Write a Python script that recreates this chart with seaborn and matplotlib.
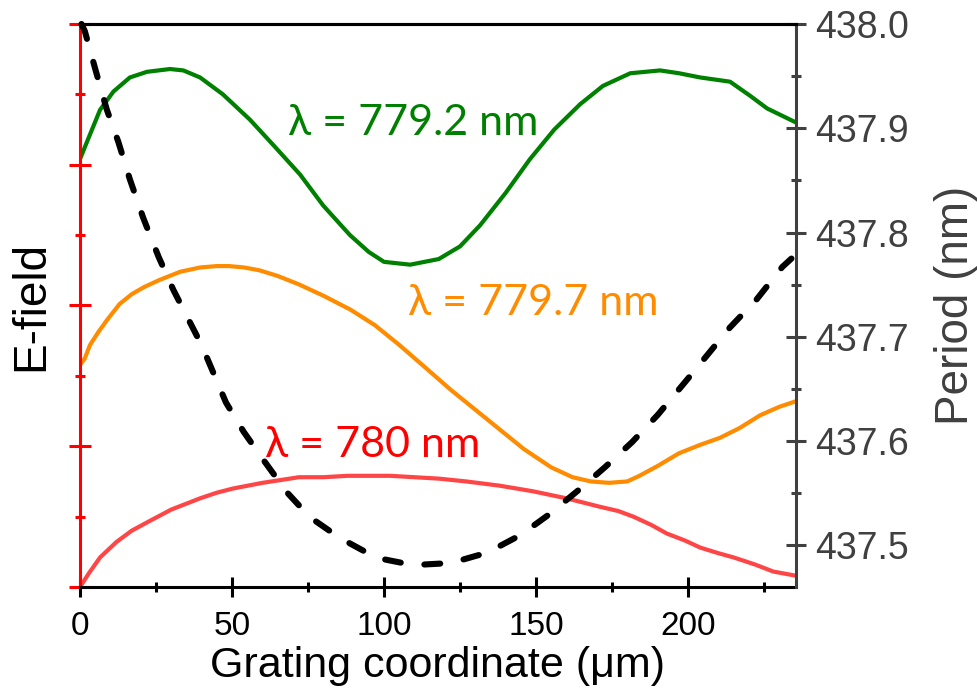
import numpy as np
import pandas as pd
import matplotlib
matplotlib.use('Agg')
import matplotlib.pyplot as plt
from matplotlib.ticker import MultipleLocator, FormatStrFormatter
import seaborn as sns

# E-field profiles (arb. units) along the grating
x_green = [0, 3, 6.6, 11, 16.4, 22, 29.6, 34, 39.5, 47, 55.9, 64, 72.4, 80, 88.8, 95, 100, 108.6,
           118, 125, 131.6, 140, 148, 156, 164.5, 172, 181, 190.8, 197, 204, 213.8, 220.4, 226, 235.5]
e_green = [3.04, 3.20, 3.39, 3.52, 3.62, 3.66, 3.68, 3.67, 3.62, 3.50, 3.32, 3.13, 2.93, 2.71, 2.50, 2.38, 2.31, 2.29,
           2.33, 2.42, 2.57, 2.80, 3.04, 3.25, 3.43, 3.56, 3.65, 3.67, 3.65, 3.62, 3.59, 3.49, 3.40, 3.30]

x_orange = [0, 1.5, 3.3, 6, 9, 13, 17, 21, 26, 33, 39.5, 45, 49, 54, 59, 65, 72, 80, 89, 97, 105,
            113, 122, 130, 138, 146, 155, 162, 168, 174, 180, 184, 190, 197, 204, 210.5, 217, 223.7, 230, 235.5]
e_orange = [1.58, 1.62, 1.72, 1.81, 1.90, 2.01, 2.08, 2.13, 2.18, 2.24, 2.27, 2.28, 2.28, 2.27, 2.25, 2.21, 2.15, 2.07,
            1.97, 1.86, 1.72, 1.57, 1.40, 1.26, 1.12, 0.98, 0.85, 0.78, 0.75, 0.74, 0.75, 0.79, 0.86, 0.95, 1.01,
            1.06, 1.13, 1.22, 1.28, 1.32]

x_red = [0, 3, 6.6, 12, 17, 23, 30, 39.5, 45, 50.4, 60, 72, 80, 88, 95, 102, 110, 118, 127, 138,
         149, 160, 171, 177, 182, 188, 193, 199, 204, 210, 215, 222, 228, 235.5]
e_red = [0.0, 0.10, 0.21, 0.32, 0.40, 0.47, 0.55, 0.63, 0.67, 0.70, 0.74, 0.78, 0.78, 0.79, 0.79, 0.79, 0.78, 0.77,
         0.75, 0.72, 0.68, 0.63, 0.57, 0.54, 0.50, 0.44, 0.38, 0.33, 0.28, 0.24, 0.21, 0.16, 0.11, 0.08]

# grating period (nm)
x_period = [0.5, 1.6, 5, 8.8, 12.6, 16.4, 20.8, 25.8, 30.7, 40, 48, 53.8, 60.3, 68, 75.6, 85.5, 97.5, 109.6,
            122, 134, 145, 154, 164, 172.7, 181.6, 190, 200, 213.8, 222.6, 231, 234]
period = [438.0, 437.993, 437.957, 437.918, 437.887, 437.851, 437.814, 437.777, 437.745, 437.692, 437.637, 437.609,
          437.582, 437.551, 437.527, 437.507, 437.488, 437.481, 437.483, 437.493, 437.510, 437.529, 437.553, 437.575,
          437.599, 437.625, 437.660, 437.709, 437.736, 437.767, 437.775]

labels = ['\u03bb = 779.2 nm', '\u03bb = 779.7 nm', '\u03bb = 780 nm']
label_xy = [(68.4, 3.21), (107.9, 1.93), (60.9, 0.925)]

GREEN = '#008000'
ORANGE = '#ff8c00'
RED_LINE = '#ff4646'
RED = '#ff0000'
GREY = '#404040'

sns.set_style('white')
plt.rcParams['font.family'] = ['Liberation Sans', 'DejaVu Sans']
plt.rcParams['text.color'] = 'black'
plt.rcParams['axes.labelcolor'] = 'black'
plt.rcParams['xtick.color'] = 'black'
plt.rcParams['ytick.color'] = 'black'

fig = plt.figure(figsize=(9.78, 6.91), dpi=100)
ax = fig.add_axes([0.0818, 0.1505, 0.7321, 0.8148])
ax2 = ax.twinx()

curves = [(x_green, e_green, GREEN), (x_orange, e_orange, ORANGE), (x_red, e_red, RED_LINE)]
for xs, es, c in curves:
    df = pd.DataFrame({'x': xs, 'e': es})
    sns.lineplot(data=df, x='x', y='e', ax=ax, color=c, lw=3, sort=False, estimator=None)

dfp = pd.DataFrame({'x': x_period, 'p': period})
sns.lineplot(data=dfp, x='x', y='p', ax=ax2, color='black', lw=4.4, sort=False, estimator=None,
             linestyle=(0, (2.6, 3.9)), dash_capstyle='round', clip_on=False)

lambda_font = ['Lato', 'DejaVu Sans']
for txt, (tx, ty), c in zip(labels, label_xy, [GREEN, ORANGE, RED]):
    ax.text(tx, ty, txt, color=c, fontsize=31, family=lambda_font, ha='left', va='baseline')

ax.set_xlim(0, 235.5)
ax.set_ylim(0, 4)
ax2.set_ylim(437.46, 438.0)

ax.xaxis.set_major_locator(MultipleLocator(50))
ax.xaxis.set_minor_locator(MultipleLocator(25))
ax.yaxis.set_major_locator(MultipleLocator(1))
ax.yaxis.set_minor_locator(MultipleLocator(0.5))
ax2.yaxis.set_major_locator(MultipleLocator(0.1))
ax2.yaxis.set_minor_locator(MultipleLocator(0.05))

for sp in list(ax.spines.values()) + list(ax2.spines.values()):
    sp.set_linewidth(2.2)
ax.spines['left'].set_color(RED)
ax.spines['right'].set_visible(False)
ax.spines['top'].set_color('black')
ax.spines['bottom'].set_color('black')
ax2.spines['left'].set_visible(False)
ax2.spines['bottom'].set_visible(False)
ax2.spines['top'].set_color('black')
ax2.spines['right'].set_color(GREY)

ax.tick_params(axis='x', which='major', direction='inout', length=15, width=2.2, color='black',
               labelcolor='black', labelsize=24, pad=10, bottom=True)
ax.tick_params(axis='x', which='minor', direction='inout', length=7, width=2.2, color='black', bottom=True)
ax.tick_params(axis='y', which='major', direction='inout', length=16, width=2.2, color=RED,
               labelleft=False, left=True)
ax.tick_params(axis='y', which='minor', direction='inout', length=7, width=2.2, color=RED, left=True)
ax2.tick_params(axis='y', which='major', direction='inout', length=15, width=2.2, color=GREY,
                labelcolor=GREY, labelsize=27, pad=6, right=True)
ax2.tick_params(axis='y', which='minor', direction='inout', length=7, width=2.2, color=GREY, right=True)
ax2.yaxis.set_major_formatter(FormatStrFormatter('%.1f'))

ax.set_xlabel('Grating coordinate (\u03bcm)', fontsize=31, labelpad=3, color='black')
ax.set_ylabel('E-field', fontsize=33, labelpad=11, color='black')
ax2.set_ylabel('Period (nm)', fontsize=33, color=GREY, labelpad=18)

fig.savefig('out.png', dpi=100)
